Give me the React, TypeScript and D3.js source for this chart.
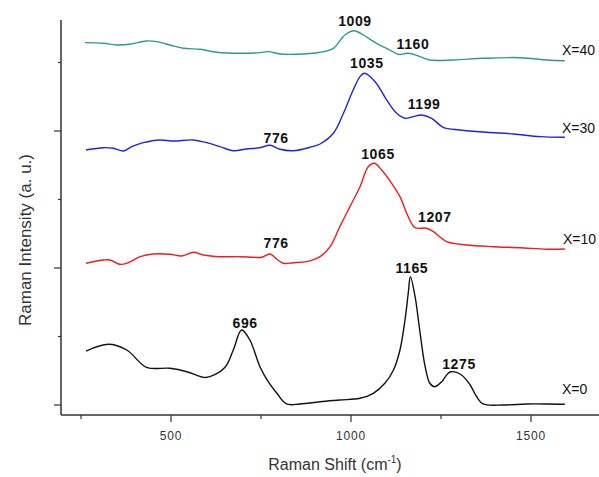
import React from "react";
import * as d3 from "d3";

// ---- Data (Raman shift in cm^-1, stacked intensity in a.u.) ----
const shift0 = [264, 326, 377, 432, 497, 544, 590, 608, 650, 673, 696, 719, 747, 770, 794, 821, 858, 914, 969, 1025, 1062, 1094, 1118, 1136, 1150, 1159, 1165, 1178, 1192, 1206, 1219, 1233, 1252, 1268, 1278, 1307, 1331, 1349, 1367, 1423, 1488, 1544, 1594];
const int0 = [0.788, 0.886, 0.803, 0.55, 0.536, 0.486, 0.404, 0.413, 0.55, 0.803, 1.095, 0.949, 0.559, 0.34, 0.171, 0.015, 0.015, 0.048, 0.073, 0.098, 0.171, 0.317, 0.511, 0.803, 1.241, 1.631, 1.873, 1.581, 1.047, 0.559, 0.317, 0.267, 0.34, 0.453, 0.486, 0.438, 0.292, 0.121, 0.015, 0.0, 0.015, 0.015, 0.01];

const shift10 = [264, 312, 331, 358, 381, 414, 451, 497, 530, 562, 590, 636, 692, 729, 752, 775, 794, 812, 840, 877, 914, 942, 969, 997, 1025, 1048, 1065, 1085, 1113, 1136, 1159, 1178, 1210, 1229, 1266, 1321, 1395, 1469, 1544, 1594];
const int10 = [2.069, 2.117, 2.117, 2.054, 2.077, 2.165, 2.204, 2.2, 2.175, 2.229, 2.19, 2.165, 2.165, 2.156, 2.156, 2.204, 2.127, 2.069, 2.077, 2.092, 2.165, 2.311, 2.603, 2.895, 3.187, 3.479, 3.528, 3.431, 3.236, 3.041, 2.749, 2.588, 2.58, 2.53, 2.384, 2.336, 2.311, 2.296, 2.273, 2.277];

const shift30 = [264, 312, 340, 368, 391, 423, 469, 506, 562, 599, 636, 673, 710, 747, 775, 803, 840, 886, 914, 951, 979, 1006, 1025, 1037, 1067, 1099, 1127, 1150, 1173, 1196, 1224, 1256, 1303, 1377, 1451, 1525, 1594];
const int30 = [3.723, 3.756, 3.747, 3.708, 3.771, 3.829, 3.869, 3.854, 3.869, 3.829, 3.771, 3.712, 3.737, 3.756, 3.791, 3.733, 3.712, 3.762, 3.81, 3.966, 4.258, 4.599, 4.793, 4.842, 4.72, 4.453, 4.258, 4.185, 4.209, 4.234, 4.185, 4.054, 4.015, 3.981, 3.956, 3.917, 3.908];

const shift40 = [261, 312, 349, 386, 432, 460, 497, 534, 581, 627, 692, 747, 770, 803, 849, 914, 951, 983, 1009, 1034, 1071, 1108, 1131, 1159, 1187, 1219, 1284, 1368, 1469, 1544, 1594];
const int40 = [5.289, 5.28, 5.255, 5.266, 5.314, 5.304, 5.255, 5.207, 5.193, 5.149, 5.134, 5.143, 5.158, 5.124, 5.12, 5.149, 5.207, 5.401, 5.464, 5.401, 5.28, 5.182, 5.12, 5.134, 5.095, 5.036, 5.036, 5.061, 5.07, 5.036, 5.026];

const seriesNames = ["X=0", "X=10", "X=30", "X=40"];
const seriesColors = ["#111111", "#ee1c1c", "#2222dd", "#2a9a90"];
const seriesShifts = [shift0, shift10, shift30, shift40];
const seriesInts = [int0, int10, int30, int40];
const seriesLabelAt = [[1586, 0.161], [1589, 2.35], [1586, 3.971], [1586, 5.109]];

const peakTexts = ["1009", "1160", "1035", "1199", "776", "1065", "1207", "776", "696", "1165", "1275"];
const peakShifts = [1011, 1172, 1044, 1203, 792, 1075, 1233, 792, 706, 1169, 1300];
const peakLevels = [5.533, 5.197, 4.92, 4.321, 3.825, 3.591, 2.672, 2.292, 1.124, 1.927, 0.526];

const xMajorTicks = [500, 1000, 1500];
const xMinorTicks = [250, 750, 1250];
const yMajorTicks = [0, 2, 4];
const yMinorTicks = [1, 3, 5];

const W = 599;
const H = 477;

export default function App() {
  const x = d3.scaleLinear().domain([194.4, 1688.9]).range([61, 599]);
  const y = d3.scaleLinear().domain([-0.146, 5.62]).range([415, 20]);
  const line = d3
    .line<[number, number]>()
    .x((d) => x(d[0]))
    .y((d) => y(d[1]))
    .curve(d3.curveCatmullRom.alpha(0.5));

  const axisColor = "#333";
  const font = "Liberation Sans, Arial, sans-serif";

  return (
    <svg
      width={W}
      height={H}
      style={{ position: "absolute", left: 0, top: 0, background: "#fff" }}
      fontFamily={font}
    >
      {/* axes */}
      <line x1={x.range()[0]} x2={x.range()[0]} y1={y.range()[1]} y2={y.range()[0]} stroke={axisColor} strokeWidth={1.5} />
      <line x1={x.range()[0]} x2={x.range()[1]} y1={y.range()[0]} y2={y.range()[0]} stroke={axisColor} strokeWidth={1.5} />
      {xMajorTicks.map((t) => (
        <g key={"xM" + t}>
          <line x1={x(t)} x2={x(t)} y1={415} y2={422} stroke={axisColor} strokeWidth={1.2} />
          <text x={x(t)} y={440} fontSize={12} textAnchor="middle" fill="#333" letterSpacing={0.8}>
            {t}
          </text>
        </g>
      ))}
      {xMinorTicks.map((t) => (
        <line key={"xm" + t} x1={x(t)} x2={x(t)} y1={415} y2={419} stroke={axisColor} strokeWidth={1.2} />
      ))}
      {yMajorTicks.map((t) => (
        <line key={"yM" + t} x1={54} x2={61} y1={y(t)} y2={y(t)} stroke={axisColor} strokeWidth={1.2} />
      ))}
      {yMinorTicks.map((t) => (
        <line key={"ym" + t} x1={58} x2={61} y1={y(t)} y2={y(t)} stroke={axisColor} strokeWidth={1.2} />
      ))}

      {/* axis titles */}
      <text x={335} y={470} fontSize={16} textAnchor="middle" fill="#333">
        Raman Shift (cm
        <tspan fontSize={10} dy={-7}>-1</tspan>
        <tspan dy={7}>)</tspan>
      </text>
      <text transform="translate(31,240) rotate(-90)" fontSize={17} textAnchor="middle" fill="#333">
        Raman Intensity (a. u.)
      </text>

      {/* spectra */}
      {seriesShifts.map((sx, i) => {
        const pts = sx.map((v, j) => [v, seriesInts[i][j]] as [number, number]);
        return (
          <path key={seriesNames[i]} d={line(pts) || ""} fill="none" stroke={seriesColors[i]} strokeWidth={1.4} />
        );
      })}

      {/* series labels */}
      {seriesNames.map((n, i) => (
        <text key={"lab" + n} x={x(seriesLabelAt[i][0])} y={y(seriesLabelAt[i][1])} fontSize={14} fill="#111">
          {n}
        </text>
      ))}

      {/* peak labels */}
      {peakTexts.map((t, i) => (
        <text
          key={"pk" + i}
          x={x(peakShifts[i])}
          y={y(peakLevels[i])}
          fontSize={14}
          fontWeight="bold"
          textAnchor="middle"
          fill="#111"
          letterSpacing={0.6}
        >
          {t}
        </text>
      ))}
    </svg>
  );
}
